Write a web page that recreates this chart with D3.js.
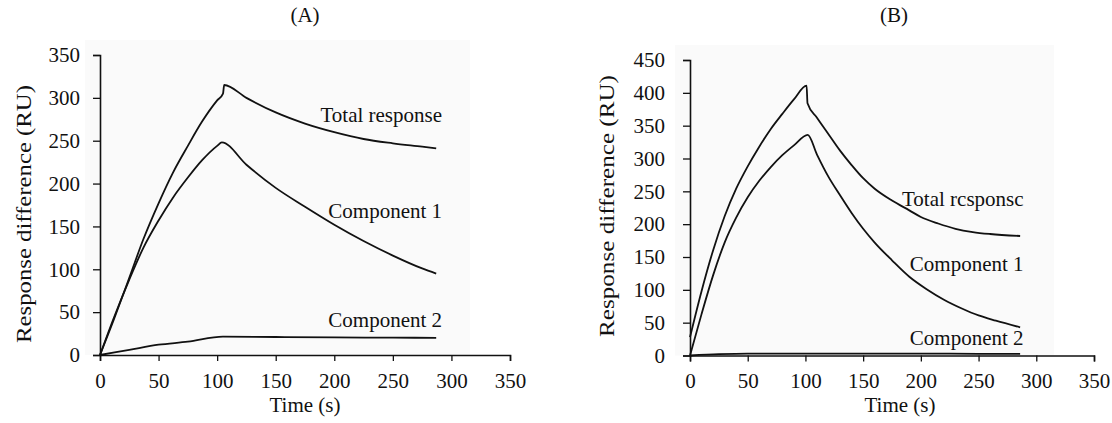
<!DOCTYPE html>
<html><head><meta charset="utf-8">
<script src="https://cdn.jsdelivr.net/npm/d3@7"></script>
<style>body{margin:0;background:#fff}svg{display:block}
svg text{font-family:"Liberation Serif","Tinos","DejaVu Serif","Times New Roman",Times,serif !important;fill:#111}</style>
</head><body><svg id="c" width="1112" height="423"></svg>
<script>
// ---- data (time in s, response in RU) ----
const aTotalT = [0,12,25,37,50,62,75,87,100,105,106,125,150,175,200,225,250,275,287];
const aTotalV = [0,42,90,135,177,212,244,272,297,305,315,300,283,270,260,252,247,243,241];
const aComp1T = [0,12,25,37,50,62,75,87,100,104,125,150,175,200,225,250,275,287];
const aComp1V = [0,44,88,125,157,183,207,227,244,248,222,195,173,152,133,116,101,95];
const aComp2T = [0,25,50,75,105,150,200,250,287];
const aComp2V = [0,6,12,15.5,21.5,21,20.5,20.2,20];

const bTotalT = [0,10,20,30,40,50,60,70,80,90,101,101.8,110,120,130,140,150,160,175,190,200,215,230,245,260,286];
const bTotalV = [28,98,160,212,254,288,318,345,368,390,411,384,362,337,312,290,270,254,236,221,211,201,193,188,185,182];
const bComp1T = [0,10,20,30,40,50,60,70,80,90,102,110,120,130,140,150,160,175,190,205,220,235,250,265,286];
const bComp1V = [0,63,122,172,210,241,266,287,305,320,336,306,272,244,217,193,172,145,120,101,85,72,61,53,43];
const bComp2T = [0,25,50,75,100,150,200,250,286];
const bComp2V = [0,2,3,3,3,3,3,2.5,2.5];

const xTicks = [0,50,100,150,200,250,300,350];
const yTicksA = [0,50,100,150,200,250,300,350];
const yTicksB = [0,50,100,150,200,250,300,350,400,450];

const FONT = '"Liberation Serif","Tinos","DejaVu Serif","Times New Roman",Times,serif';

const panels = [
  {title:"(A)", titleX:305, xlabX:305, xr:[100,510], yDom:[0,350], yr:[355,55], yTicks:yTicksA, ylabX:23, ylabY:214, ylabLen:258, ypad:13,
   series:[[aTotalT,aTotalV],[aComp1T,aComp1V],[aComp2T,aComp2V]],
   labels:[["Total response",292,272],["Component 1",292,159.5],["Component 2",292,33]]},
  {title:"(B)", titleX:894, xlabX:900, xr:[690,1094], yDom:[0,450], yr:[355.5,60], yTicks:yTicksB, ylabX:606, ylabY:206, ylabLen:262, ypad:18,
   series:[[bTotalT,bTotalV],[bComp1T,bComp1V],[bComp2T,bComp2V]],
   labels:[["Total rcsponsc",289,227],["Component 1",289,128],["Component 2",289,16]]}
];

const svg = d3.select("#c").attr("font-family", FONT);
panels.forEach(p => {
  const x = d3.scaleLinear().domain([0,350]).range(p.xr);
  const y = d3.scaleLinear().domain(p.yDom).range(p.yr);
  const g = svg.append("g");
  g.append("rect").attr("x", p.xr[0]-15).attr("y", p.yr[1]-15).attr("width", p.xr[1]-p.xr[0]-25).attr("height", p.yr[0]-p.yr[1]+15).attr("fill","#fafafa");

  // x axis
  const minorX = d3.range(0,351,25);
  const xa = g.append("g").attr("transform",`translate(0,${p.yr[0]})`);
  xa.call(d3.axisBottom(x).tickValues(minorX).tickSize(6).tickFormat(""));
  xa.call(d3.axisBottom(x).tickValues(xTicks).tickSize(6).tickPadding(12).tickFormat(d3.format("d")));
  xa.attr("font-family", FONT);
  xa.selectAll(".domain").attr("stroke","#111").attr("stroke-width",1.6);
  xa.selectAll("line").attr("stroke","#111").attr("stroke-width",1.3);
  xa.selectAll("text").attr("font-size",21).attr("fill","#111");

  // y axis
  const minorY = d3.range(0,p.yDom[1]+1,25);
  const ya = g.append("g").attr("transform",`translate(${p.xr[0]},0)`);
  ya.call(d3.axisLeft(y).tickValues(minorY).tickSize(4).tickFormat(""));
  ya.call(d3.axisLeft(y).tickValues(p.yTicks).tickSize(7).tickPadding(p.ypad).tickFormat(d3.format("d")));
  ya.attr("font-family", FONT);
  ya.selectAll(".domain").attr("stroke","#111").attr("stroke-width",1.6);
  ya.selectAll("line").attr("stroke","#111").attr("stroke-width",1.3);
  ya.selectAll("text").attr("font-size",21).attr("fill","#111");

  // lines
  const line = d3.line().x(d=>x(d[0])).y(d=>y(d[1])).curve(d3.curveMonotoneX);
  p.series.forEach(([ts,vs]) => {
    const pts = ts.map((t,i)=>[t,vs[i]]);
    g.append("path").datum(pts).attr("d",line).attr("fill","none").attr("stroke","#111").attr("stroke-width",1.8);
  });

  // curve labels
  p.labels.forEach(([txt,t,v]) => {
    g.append("text").attr("x",x(t)).attr("y",y(v)).attr("text-anchor","end").attr("font-size",21).text(txt);
  });

  g.append("text").attr("x",p.titleX).attr("y",22).attr("text-anchor","middle").attr("font-size",21).text(p.title);
  g.append("text").attr("x",p.xlabX).attr("y",412).attr("text-anchor","middle").attr("font-size",21).text("Time (s)");
  g.append("text").attr("transform",`translate(${p.ylabX},${p.ylabY}) rotate(-90)`).attr("text-anchor","middle")
    .attr("dominant-baseline","central").attr("font-size",22).attr("textLength",p.ylabLen).attr("lengthAdjust","spacingAndGlyphs")
    .text("Response difference (RU)");
});
</script></body></html>
